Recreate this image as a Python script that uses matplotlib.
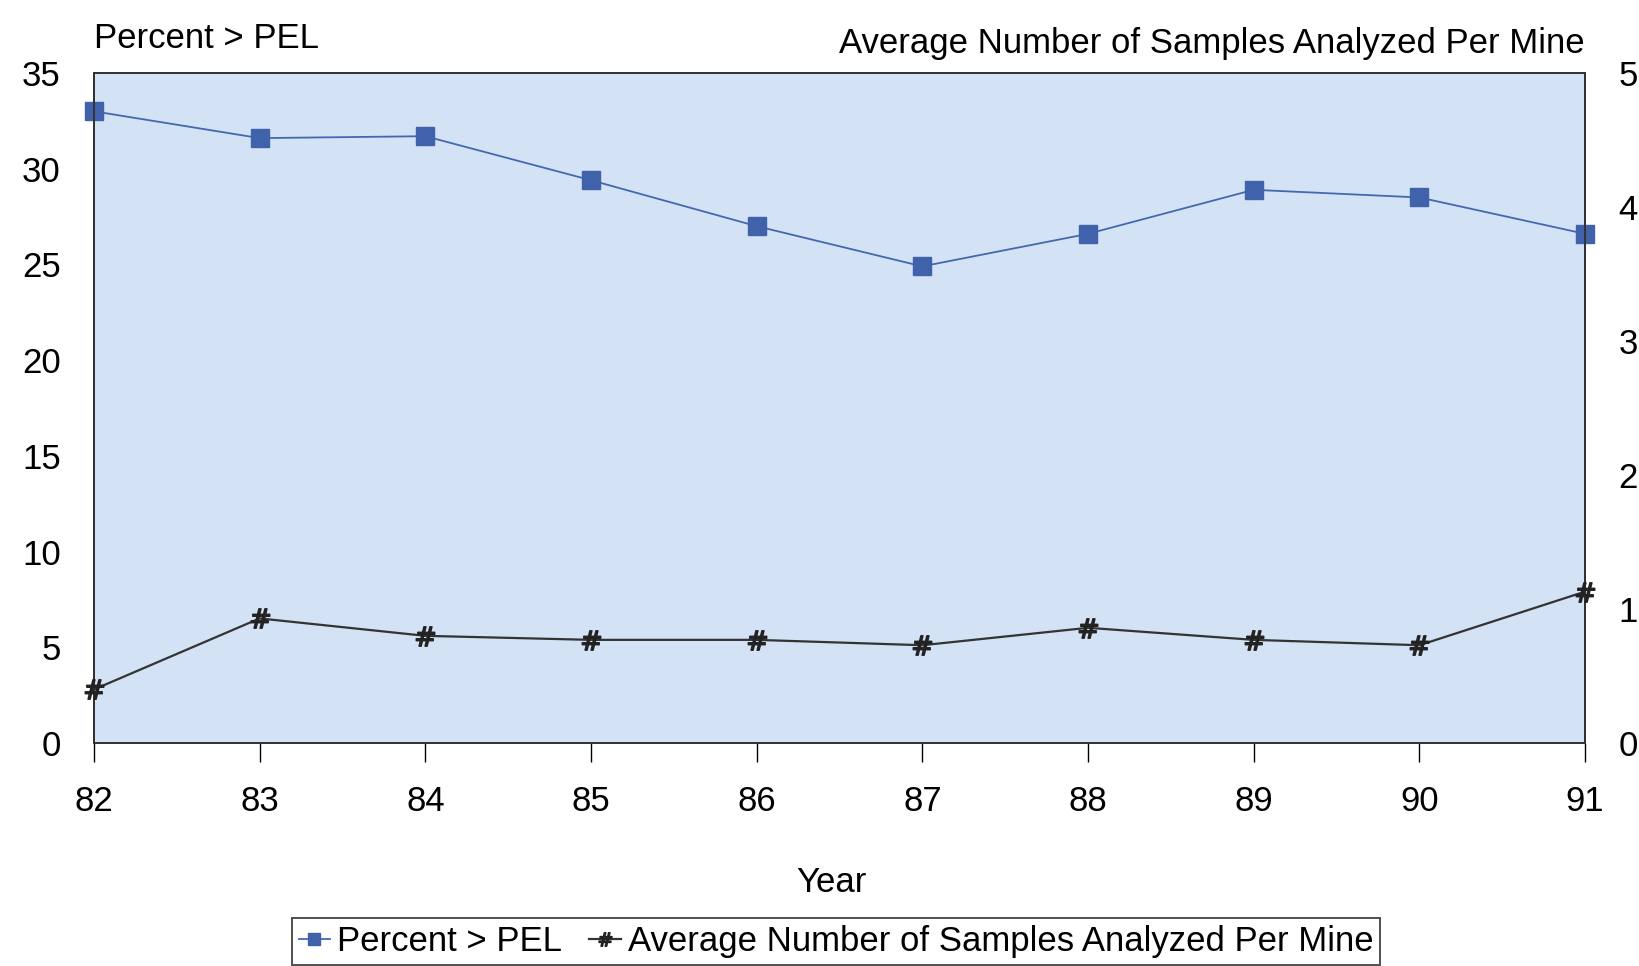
import matplotlib.pyplot as plt

plt.rcParams['font.family'] = ['Liberation Sans', 'DejaVu Sans']

# data
years = [82, 83, 84, 85, 86, 87, 88, 89, 90, 91]
year_labels = ['82', '83', '84', '85', '86', '87', '88', '89', '90', '91']
pct_over_pel = [33.0, 31.6, 31.7, 29.4, 27.0, 24.9, 26.6, 28.9, 28.5, 26.6]
avg_samples = [0.40, 0.93, 0.80, 0.77, 0.77, 0.73, 0.86, 0.77, 0.73, 1.13]

fs = 25

fig = plt.figure(figsize=(16.4, 9.66), dpi=100)
ax = fig.add_axes([0.0573, 0.2308, 0.9092, 0.6936])
ax2 = ax.twinx()

ax.set_facecolor('#d4e2f5')
ax.plot(years, pct_over_pel, color='#4468b0', lw=1.3, marker='s', ms=13,
        mfc='#3f62ab', mec='#3f62ab', label='Percent > PEL', clip_on=False, zorder=3)
ax2.plot(years, avg_samples, color='#333333', lw=1.6, marker='$\\#$', ms=14,
         mfc='#222222', mec='#222222', label='Average Number of Samples Analyzed Per Mine',
         clip_on=False, zorder=3)

ax.set_xlim(82, 91)
ax.set_ylim(0, 35)
ax2.set_ylim(0, 5)
ax.set_xticks(years)
ax.set_xticklabels(year_labels)
ax.set_yticks(range(0, 36, 5))
ax2.set_yticks(range(0, 6))

ax.tick_params(axis='x', direction='out', length=14, width=1, pad=16, labelsize=fs)
ax.tick_params(axis='y', length=0, pad=24, labelsize=fs)
ax2.tick_params(axis='y', length=0, pad=24, labelsize=fs)

for a in (ax, ax2):
    for s in a.spines.values():
        s.set_color('#333333')
        s.set_linewidth(1.4)

ax.text(0.0, 1.051, 'Percent > PEL', transform=ax.transAxes, fontsize=fs,
        ha='left', va='center')
ax.text(1.0, 1.0435, 'Average Number of Samples Analyzed Per Mine',
        transform=ax.transAxes, fontsize=fs, ha='right', va='center')
ax.text(0.4946, -0.2075, 'Year', transform=ax.transAxes, fontsize=fs,
        ha='center', va='center')

h1, l1 = ax.get_legend_handles_labels()
h2, l2 = ax2.get_legend_handles_labels()
leg = fig.legend(h1 + h2, l1 + l2, loc='upper center', bbox_to_anchor=(0.5097, 0.0497),
                 borderaxespad=0, ncol=2, fontsize=fs, frameon=True, fancybox=False,
                 edgecolor='#222222', handlelength=0.9, handletextpad=0.2,
                 columnspacing=0.8, borderpad=0.2, markerscale=0.7)
leg.get_frame().set_linewidth(1.4)

fig.savefig('out.png', dpi=100)
